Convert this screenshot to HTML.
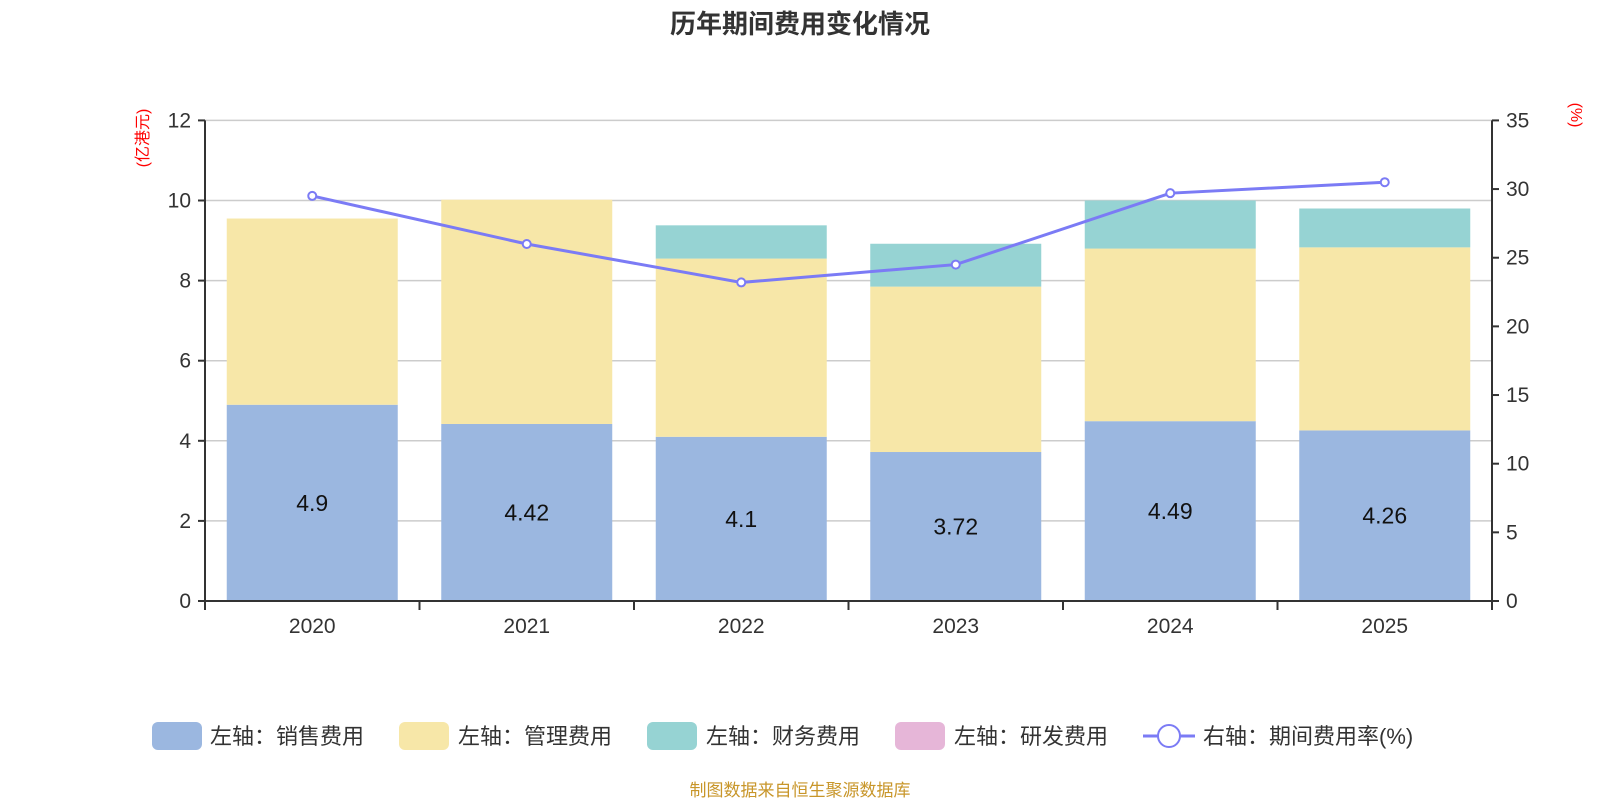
<!DOCTYPE html>
<html><head><meta charset="utf-8"><style>
body{margin:0;background:#fff;width:1600px;height:800px;overflow:hidden;font-family:"Liberation Sans","Noto Sans CJK SC",sans-serif}
</style></head><body>
<svg id="c" width="1600" height="800" xmlns="http://www.w3.org/2000/svg" font-family="Liberation Sans, Noto Sans CJK SC, sans-serif">
<text x="800" y="33" text-anchor="middle" font-size="26" font-weight="bold" fill="#333">历年期间费用变化情况</text>
<text transform="translate(148,138) rotate(-90)" text-anchor="middle" font-size="16" fill="red">(亿港元)</text>
<text transform="translate(1571,115) rotate(90)" text-anchor="middle" font-size="16" fill="red">(%)</text>
<g id="grid"></g><g id="bars"></g><g id="axes"></g><g id="line"></g>
<g id="legend" font-size="22" fill="#333">
<rect x="152" y="722" width="50" height="28" rx="6" fill="#9bb7e0"/>
<text x="210" y="744">左轴：销售费用</text>
<rect x="399" y="722" width="50" height="28" rx="6" fill="#f7e7a8"/>
<text x="458" y="744">左轴：管理费用</text>
<rect x="647" y="722" width="50" height="28" rx="6" fill="#96d3d3"/>
<text x="706" y="744">左轴：财务费用</text>
<rect x="895" y="722" width="50" height="28" rx="6" fill="#e6b6d8"/>
<text x="954" y="744">左轴：研发费用</text>
<line x1="1143" y1="736" x2="1195" y2="736" stroke="#7b7bf5" stroke-width="3"/>
<circle cx="1169" cy="736" r="11" fill="#fff" stroke="#7b7bf5" stroke-width="2"/>
<text x="1203" y="744">右轴：期间费用率(%)</text>
</g>
<text x="800" y="796" text-anchor="middle" font-size="17" fill="#c8962a">制图数据来自恒生聚源数据库</text>
</svg>
<script>
const years=["2020","2021","2022","2023","2024","2025"];
const sales=[4.9,4.42,4.1,3.72,4.49,4.26];
const admin=[4.65,5.6,4.45,4.13,4.31,4.57];
const finance=[0,0,0.83,1.07,1.2,0.97];
const rate=[29.5,26.0,23.2,24.5,29.7,30.5];
const leftTicks=[0,2,4,6,8,10,12];
const rightTicks=[0,5,10,15,20,25,30,35];
const NS="http://www.w3.org/2000/svg";
const L=205,R=1492,T=120.4,B=601;
const cw=(R-L)/years.length,bw=171;
const yL=v=>B-(v/12)*(B-T);
const yR=v=>B-(v/35)*(B-T);
const xC=i=>L+cw*(i+0.5);
function mk(tag,attrs,parent,text){const e=document.createElementNS(NS,tag);for(const k in attrs)e.setAttribute(k,attrs[k]);if(text!==undefined)e.textContent=text;document.getElementById(parent).appendChild(e);return e;}
leftTicks.forEach(t=>{
 if(t>0){const g=mk('line',{x1:L,x2:R,y1:yL(t),y2:yL(t),stroke:'#ccc','stroke-width':1.5},'grid');
 
 }
 const tk=mk('line',{x1:L-7,x2:L,y1:yL(t),y2:yL(t),stroke:'#333','stroke-width':2},'axes');
 
 
 const tx=mk('text',{x:L-14,y:yL(t)+7,'text-anchor':'end','font-size':21,fill:'#333'},'axes',String(t));
 
 
});
rightTicks.forEach(t=>{
 const tk=mk('line',{x1:R,x2:R+7,y1:yR(t),y2:yR(t),stroke:'#333','stroke-width':2},'axes');
 
 
 const tx=mk('text',{x:R+14,y:yR(t)+7,'font-size':21,fill:'#333'},'axes',String(t));
 
 
});
let a=mk('line',{x1:L,x2:L,y1:T,y2:B,stroke:'#333','stroke-width':2},'axes');


a=mk('line',{x1:R,x2:R,y1:T,y2:B+6,stroke:'#333','stroke-width':2},'axes');


a=mk('line',{x1:L,x2:R,y1:B,y2:B,stroke:'#333','stroke-width':2},'axes');


for(let i=0;i<=years.length;i++){
 const t=mk('line',{x1:L+cw*i,x2:L+cw*i,y1:B,y2:B+9,stroke:'#333','stroke-width':2},'axes');
 
 
}
years.forEach((y,i)=>{
 const tx=mk('text',{x:xC(i),y:B+32,'text-anchor':'middle','font-size':21,fill:'#333'},'axes',y);
 
 
 const x=xC(i)-bw/2;
 const s=[[sales[i],'#9bb7e0','bar-sales-'+y],[admin[i],'#f7e7a8','bar-admin-'+y],[finance[i],'#96d3d3','bar-finance-'+y]];
 let base=0;
 s.forEach(([v,c,n])=>{
  if(v>0){const r=mk('rect',{x:x,width:bw,y:yL(base+v),height:yL(base)-yL(base+v),fill:c},'bars');
  
  }
  base+=v;
 });
 const lb=mk('text',{x:xC(i),y:yL(sales[i]/2)+8,'text-anchor':'middle','font-size':23,fill:'#111'},'bars',String(sales[i]));
 
 
});
const pl=mk('polyline',{points:rate.map((v,i)=>xC(i)+','+yR(v)).join(' '),fill:'none',stroke:'#7b7bf5','stroke-width':3},'line');


rate.forEach((v,i)=>{
 const c=mk('circle',{cx:xC(i),cy:yR(v),r:4,fill:'#fff',stroke:'#7b7bf5','stroke-width':2},'line');
 
 
});
</script>
</body></html>
